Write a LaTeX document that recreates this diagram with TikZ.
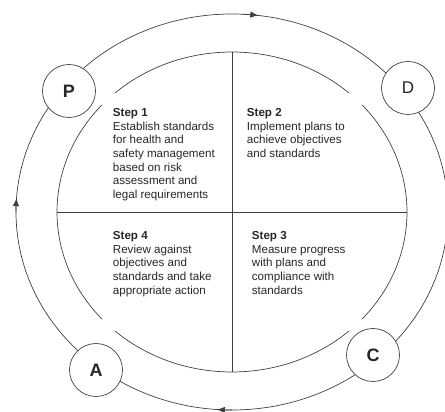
\documentclass[tikz,border=0pt]{standalone}
\usepackage{fontspec}
\setmainfont{Liberation Sans}
\usetikzlibrary{arrows.meta}
\begin{document}
\begin{tikzpicture}[x=1pt,y=1pt,
  ring/.style={draw=black!75,line width=0.7pt},
  flow/.style={ring,-{Latex[length=8pt,width=6.5pt]}},
  letter/.style={circle,ring,fill=white,minimum size=53pt,inner sep=0pt,font=\fontsize{18}{18}\selectfont\bfseries,text=black!85},
  steptext/.style={anchor=north west,align=left,inner sep=0pt,font=\fontsize{11.6}{13.6}\selectfont,text=black!85}]
\useasboundingbox (0,0) rectangle (445,412);
\clip (0,0) rectangle (445,412);

% Centre of both rings
\coordinate (O) at (232,200);

% Outer cycle with direction marks
\draw[ring] (O) ellipse[x radius=216pt,y radius=198pt];
\draw[flow] ([shift={(87:216pt and 198pt)}]O) arc[start angle=87,end angle=83,x radius=216pt,y radius=198pt];
\draw[flow] ([shift={(180:216pt and 198pt)}]O) arc[start angle=180,end angle=176,x radius=216pt,y radius=198pt];
\draw[flow] ([shift={(270:216pt and 198pt)}]O) arc[start angle=270,end angle=266,x radius=216pt,y radius=198pt];

% Inner ring, broken at the diagonals
\foreach \a in {48,138,228,318}
  \draw[ring] ([shift={(\a:175pt and 160pt)}]O) arc[start angle=\a,delta angle=84,x radius=175pt,y radius=160pt];

% Quadrant cross
\coordinate (top) at ([yshift=160pt]O);
\coordinate (bottom) at ([yshift=-160pt]O);
\coordinate (left) at ([xshift=-175pt]O);
\coordinate (right) at ([xshift=175pt]O);
\draw[ring] (top) -- (bottom);
\draw[ring] (left) -- (right);

% PDCA letters
\node[letter] (P) at (69,321) {P};
\node[letter,font=\fontsize{17}{17}\selectfont] (D) at (408,324) {D};
\node[letter] (C) at (373,57) {C};
\node[letter] (A) at (96,42) {A};

% Steps
\node[steptext] (step1) at (112.7,303.5) {\textbf{Step 1}\\Establish standards\\for health and\\safety management\\based on risk\\assessment and\\legal requirements};
\node[steptext] (step2) at (246.7,303.5) {\textbf{Step 2}\\Implement plans to\\achieve objectives\\and standards};
\node[steptext] (step3) at (251.7,180.5) {\textbf{Step 3}\\Measure progress\\with plans and\\compliance with\\standards};
\node[steptext] (step4) at (112.7,180.5) {\textbf{Step 4}\\Review against\\objectives and\\standards and take\\appropriate action};
\end{tikzpicture}
\end{document}
